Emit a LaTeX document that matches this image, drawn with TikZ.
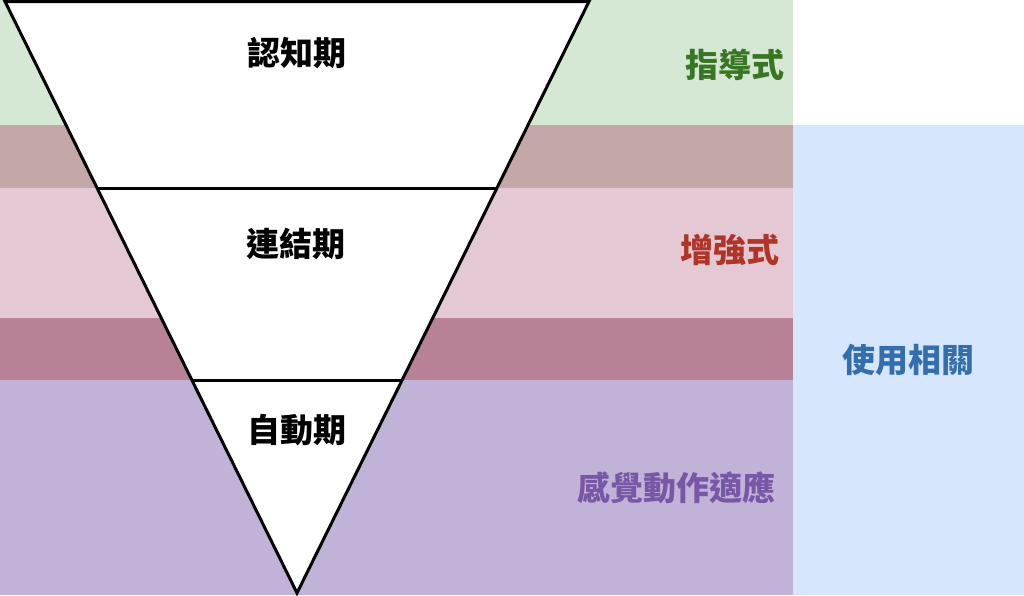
\documentclass[tikz,border=0pt]{standalone}
\usepackage{fontspec}
\newfontfamily\cjk{Noto Sans CJK TC}
\usetikzlibrary{calc}
\definecolor{bandgreen}{RGB}{213,232,212}
\definecolor{bandmix}{RGB}{196,168,168}
\definecolor{bandpink}{RGB}{228,200,212}
\definecolor{bandmauve}{RGB}{184,130,150}
\definecolor{bandpurple}{RGB}{193,178,215}
\definecolor{bandblue}{RGB}{214,230,252}
\definecolor{txtgreen}{RGB}{56,118,36}
\definecolor{txtred}{RGB}{176,52,40}
\definecolor{txtblue}{RGB}{52,110,172}
\definecolor{txtpurple}{RGB}{120,88,166}
\tikzset{
  stage/.style={inner sep=0pt, font=\cjk\bfseries\fontsize{33}{36}\selectfont, text=black},
  mode/.style={stage, text=#1},
}
\begin{document}
\begin{tikzpicture}[x=1pt,y=-1pt]
	\def\bandr{793};
	\useasboundingbox (0,0) rectangle (1024,595);
	% bands
	\fill[bandgreen] (0,0) rectangle (\bandr,125);
	\fill[bandmix] (0,125) rectangle (\bandr,188);
	\fill[bandpink] (0,188) rectangle (\bandr,318);
	\fill[bandmauve] (0,318) rectangle (\bandr,380);
	\fill[bandpurple] (0,380) rectangle (\bandr,595);
	\fill[bandblue] (\bandr,125) rectangle (1024,595);
	% funnel
	\coordinate (tl) at (5,1.5);
	\coordinate (tr) at (589,1.5);
	\coordinate (apex) at (297,593);
	\draw[line width=3pt, line join=miter, fill=white] (tl) -- (tr) -- (apex) -- cycle;
	\draw[line width=3pt] ($(tl)!0.3155!(apex)$) -- ($(tr)!0.3155!(apex)$);
	\draw[line width=3pt] ($(tl)!0.6399!(apex)$) -- ($(tr)!0.6399!(apex)$);
	\node[stage] (cog) at (297,53) {認知期};
	\node[stage] (assoc) at (296,244) {連結期};
	\node[stage] (auto) at (297,430) {自動期};
	\node[mode=txtgreen] (guide) at (735,65) {指導式};
	\node[mode=txtred] (boost) at (730,250) {增強式};
	\node[mode=txtblue] (use) at (908,360) {使用相關};
	\node[mode=txtpurple] (sense) at (676,488) {感覺動作適應};
\end{tikzpicture}
\end{document}
